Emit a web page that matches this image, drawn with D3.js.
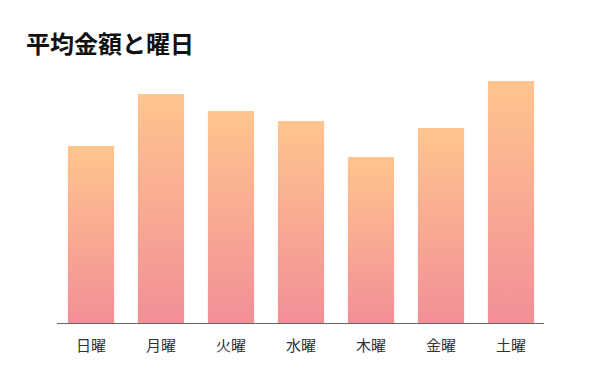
<!DOCTYPE html>
<html><head><meta charset="utf-8">
<script src="https://cdn.jsdelivr.net/npm/d3@7"></script>
<style>body{margin:0;background:#fff;}text{font-family:"Noto Sans CJK JP","Noto Sans",sans-serif;}</style>
</head><body>
<svg id="c" width="600" height="380"></svg>
<script>
const categories = ["日曜","月曜","火曜","水曜","木曜","金曜","土曜"];
const values = [1770, 2290, 2120, 2020, 1660, 1950, 2420];
const title = "平均金額と曜日";

const svg = d3.select("#c");
const x = d3.scaleBand().domain(categories).range([56, 546]).paddingInner(0.34).paddingOuter(0.17);
const y = d3.scaleLinear().domain([0, 2500]).range([323, 73]);

const defs = svg.append("defs");
const g = defs.append("linearGradient").attr("id","grad").attr("x1",0).attr("y1",0).attr("x2",0).attr("y2",1);
g.append("stop").attr("offset","0%").attr("stop-color","#FFC58E");
g.append("stop").attr("offset","100%").attr("stop-color","#F28F97");

svg.append("text").attr("x",26).attr("y",53).attr("font-size",24).attr("font-weight","bold").attr("fill","#111").text(title);

svg.selectAll("rect.bar").data(categories).join("rect").attr("class","bar")
  .attr("x", d => x(d)).attr("width", x.bandwidth())
  .attr("y", (d,i) => y(values[i])).attr("height", (d,i) => y(0) - y(values[i]))
  .attr("fill","url(#grad)");

const ax = svg.append("g").attr("transform",`translate(0,${y(0)})`).call(d3.axisBottom(x).tickSize(0).tickPadding(17));
ax.select(".domain").attr("stroke","#666").attr("d","M57,0.5H544");
ax.selectAll("text").attr("font-size",15).attr("fill","#333").attr("font-family",'"Noto Sans CJK JP",sans-serif');
</script>
</body></html>
